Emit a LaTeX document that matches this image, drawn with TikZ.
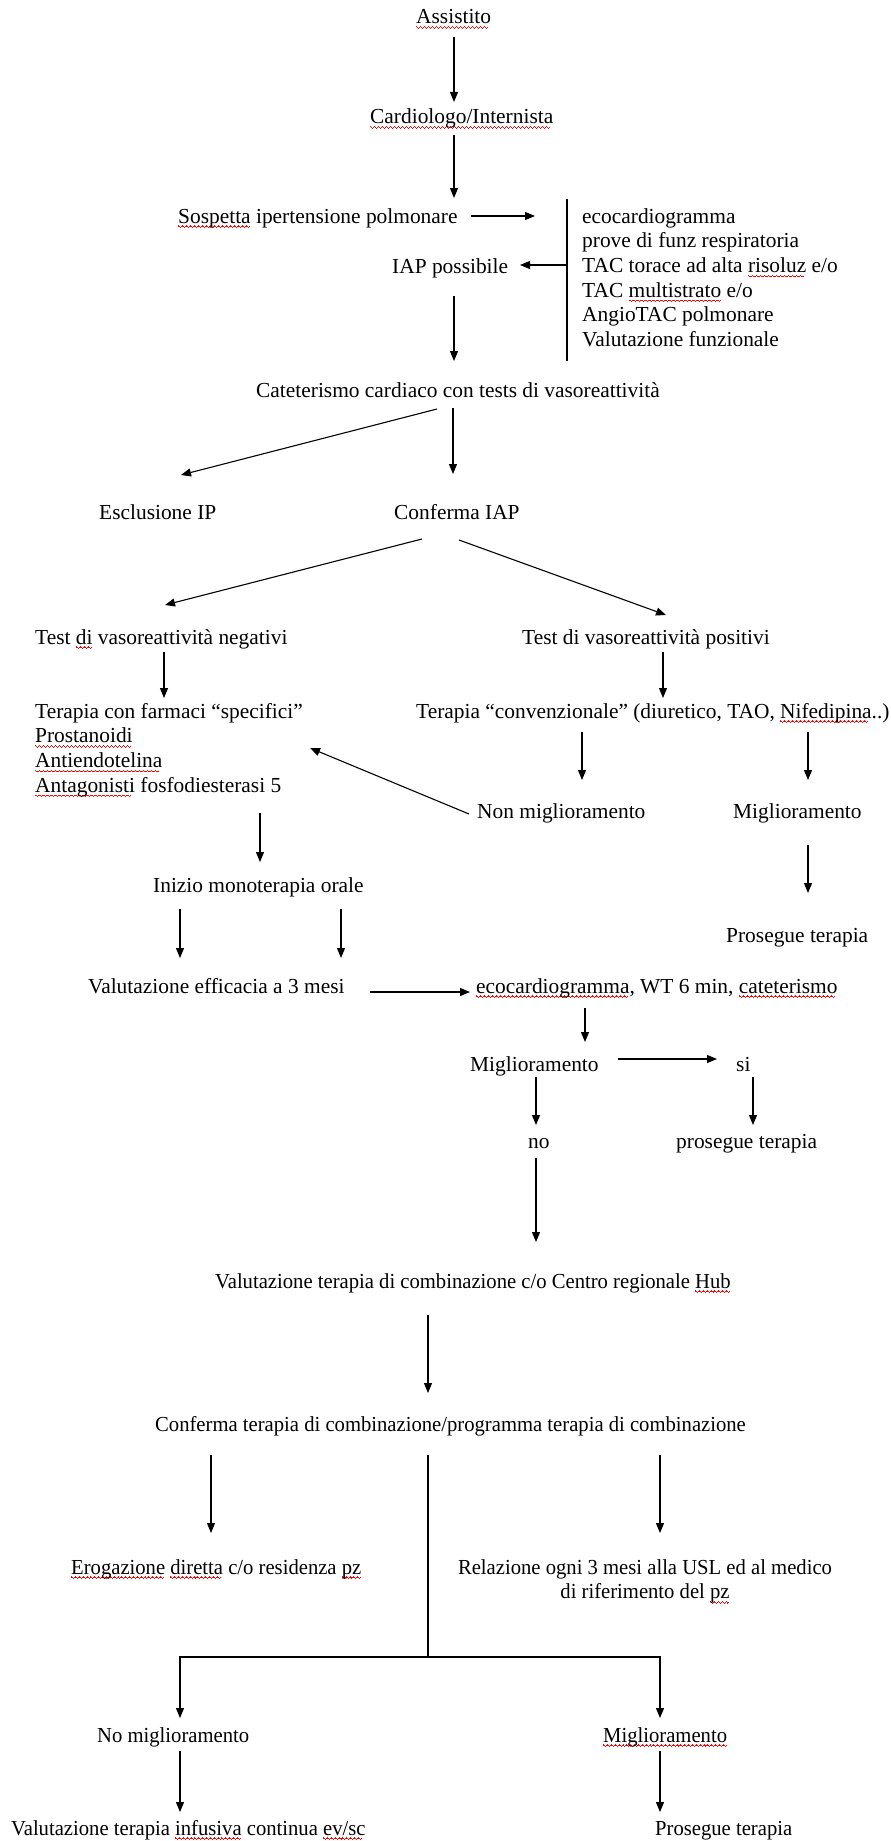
\documentclass[tikz,border=0pt]{standalone}
\usepackage{fontspec}
\setmainfont{Liberation Serif}
\usetikzlibrary{arrows.meta}
% red wavy underline for flagged words, built from small rule steps
\newcommand\wavecell{\hbox{%
  \vrule width 1pt height -2.4pt depth 3.5pt%
  \vrule width 1pt height -3.1pt depth 4.2pt%
  \vrule width 1pt height -3.8pt depth 4.9pt%
  \vrule width 1pt height -3.1pt depth 4.2pt}}
\newcommand\sq[1]{\leavevmode\setbox0\hbox{#1}%
  \rlap{\color{red}\hbox to\wd0{\leaders\wavecell\hfill}}\box0\relax}
\newcommand\lcol[1]{\begin{tabular}[t]{@{}l@{}}#1\end{tabular}}
\newcommand\ccol[1]{\begin{tabular}[t]{@{}c@{}}#1\end{tabular}}

\begin{document}
\begin{tikzpicture}[x=1pt,y=-1pt,
  txt/.style={anchor=base west, inner sep=0pt, font=\fontsize{21.4}{24.7}\selectfont},
  tight/.style={transform shape, xscale=0.965},
  arr/.style={line width=1.1pt, -{Triangle[length=10pt,width=8pt]}},
  rule/.style={line width=1.1pt}]
\fill[white] (0,0) rectangle (891,1841);
\useasboundingbox (0,0) rectangle (891,1841);

% ---- texts ----
\node[txt] (assist) at (416,24) {\sq{Assistito}};
\node[txt] (cardio) at (370,124) {\sq{Cardiologo/Internista}};
\node[txt] (sosp) at (178,223) {\sq{Sospetta} ipertensione polmonare};
\node[txt] (esami) at (582,223) {\lcol{ecocardiogramma\\ prove di funz respiratoria\\ TAC torace ad alta \sq{risoluz} e/o\\ TAC \sq{multistrato} e/o\\ AngioTAC polmonare\\ Valutazione funzionale}};
\node[txt] (iap) at (392,273) {IAP possibile};
\node[txt] (cat) at (256,397) {Cateterismo cardiaco con tests di vasoreattività};
\node[txt] (escl) at (99,519) {Esclusione IP};
\node[txt] (confiap) at (394,519) {Conferma IAP};
\node[txt] (testneg) at (35,644) {Test \sq{di} vasoreattività negativi};
\node[txt] (testpos) at (522,644) {Test di vasoreattività positivi};
\node[txt] (spec) at (35,718) {\lcol{Terapia con farmaci “specifici”\\ \sq{Prostanoidi}\\ \sq{Antiendotelina}\\ \sq{Antagonisti} fosfodiesterasi 5}};
\node[txt] (conv) at (416,718) {Terapia “convenzionale” (diuretico, TAO, \sq{Nifedipina}..)};
\node[txt] (nonmig) at (477,818) {Non miglioramento};
\node[txt] (mig1) at (733,818) {Miglioramento};
\node[txt] (inizio) at (153,892) {Inizio monoterapia orale};
\node[txt] (pros1) at (726,942) {Prosegue terapia};
\node[txt] (valeff) at (88,993) {Valutazione efficacia a 3 mesi};
\node[txt] (eco) at (476,993) {\sq{ecocardiogramma}, WT 6 min, \sq{cateterismo}};
\node[txt] (mig2) at (470,1071) {Miglioramento};
\node[txt] (si) at (736,1071) {si};
\node[txt] (no) at (528,1148) {no};
\node[txt] (pros2) at (676,1148) {prosegue terapia};
\node[txt, tight] (valcomb) at (215,1288) {Valutazione terapia di combinazione c/o Centro regionale \sq{Hub}};
\node[txt, tight] (confcomb) at (155,1431) {Conferma terapia di combinazione/programma terapia di combinazione};
\node[txt, tight] (erog) at (71,1574) {\sq{Erogazione} \sq{diretta} c/o residenza \sq{pz}};
\node[txt, tight, anchor=base] (rel) at (645,1574) {\ccol{Relazione ogni 3 mesi alla USL ed al medico\\ di riferimento del \sq{pz}}};
\node[txt, tight] (nomig) at (97,1742) {No miglioramento};
\node[txt, tight] (mig3) at (603,1742) {\sq{Miglioramento}};
\node[txt, tight] (valinf) at (11,1835) {Valutazione terapia \sq{infusiva} continua \sq{ev/sc}};
\node[txt, tight] (pros3) at (655,1835) {Prosegue terapia};

% ---- connectors ----
\draw[arr] ([shift={(38,13)}]assist.base west) -- ([shift={(84,-22)}]cardio.base west);
\draw[arr] ([shift={(84,11)}]cardio.base west) -- ([shift={(276,-25)}]sosp.base west);
\draw[arr] ([shift={(293,-7)}]sosp.base west) -- ([shift={(-47,-7)}]esami.base west);
\draw[rule] ([shift={(-15,-24)}]esami.base west) -- ([shift={(-15,138)}]esami.base west);
\draw[arr] ([shift={(-15,42)}]esami.base west) -- ([shift={(128,-8)}]iap.base west);
\draw[arr] ([shift={(62,23)}]iap.base west) -- ([shift={(198,-36)}]cat.base west);
\draw[arr] ([shift={(181,12)}]cat.base west) -- ([shift={(82,-44)}]escl.base west);
\draw[arr] ([shift={(197,11)}]cat.base west) -- ([shift={(59,-45)}]confiap.base west);
\draw[arr] ([shift={(28,20)}]confiap.base west) -- ([shift={(130,-39)}]testneg.base west);
\draw[arr] ([shift={(65,21)}]confiap.base west) -- ([shift={(144,-29)}]testpos.base west);
\draw[arr] ([shift={(129,8)}]testneg.base west) -- ([shift={(129,-20)}]spec.base west);
\draw[arr] ([shift={(141,8)}]testpos.base west) -- ([shift={(247,-20)}]conv.base west);
\draw[arr] ([shift={(166,14)}]conv.base west) -- ([shift={(105,-38)}]nonmig.base west);
\draw[arr] ([shift={(392,14)}]conv.base west) -- ([shift={(75,-38)}]mig1.base west);
\draw[arr] ([shift={(-8,-4)}]nonmig.base west) -- ([shift={(275,30)}]spec.base west);
\draw[arr] ([shift={(225,95)}]spec.base west) -- ([shift={(107,-30)}]inizio.base west);
\draw[arr] ([shift={(75,27)}]mig1.base west) -- ([shift={(82,-49)}]pros1.base west);
\draw[arr] ([shift={(27,17)}]inizio.base west) -- ([shift={(92,-35)}]valeff.base west);
\draw[arr] ([shift={(188,17)}]inizio.base west) -- ([shift={(253,-35)}]valeff.base west);
\draw[arr] ([shift={(282,-1)}]valeff.base west) -- ([shift={(-6,-1)}]eco.base west);
\draw[arr] ([shift={(109,15)}]eco.base west) -- ([shift={(115,-29)}]mig2.base west);
\draw[arr] ([shift={(148,-12)}]mig2.base west) -- ([shift={(-19,-12)}]si.base west);
\draw[arr] ([shift={(66,6)}]mig2.base west) -- ([shift={(8,-23)}]no.base west);
\draw[arr] ([shift={(17,6)}]si.base west) -- ([shift={(77,-23)}]pros2.base west);
\draw[arr] ([shift={(8,10)}]no.base west) -- ([shift={(321,-46)}]valcomb.base west);
\draw[arr] ([shift={(213,27)}]valcomb.base west) -- ([shift={(273,-38)}]confcomb.base west);
\draw[arr] ([shift={(56,24)}]confcomb.base west) -- ([shift={(140,-41)}]erog.base west);
\draw[arr] ([shift={(505,24)}]confcomb.base west) -- ([shift={(15,-41)}]rel.base);
\draw[rule] ([shift={(273,24)}]confcomb.base west) -- ([shift={(273,226)}]confcomb.base west) coordinate (split);
\draw[arr] (split) -| ([shift={(83,-24)}]nomig.base west);
\draw[arr] (split) -| ([shift={(57,-24)}]mig3.base west);
\draw[arr] ([shift={(83,9)}]nomig.base west) -- ([shift={(169,-23)}]valinf.base west);
\draw[arr] ([shift={(57,9)}]mig3.base west) -- ([shift={(5,-23)}]pros3.base west);
\end{tikzpicture}
\end{document}
